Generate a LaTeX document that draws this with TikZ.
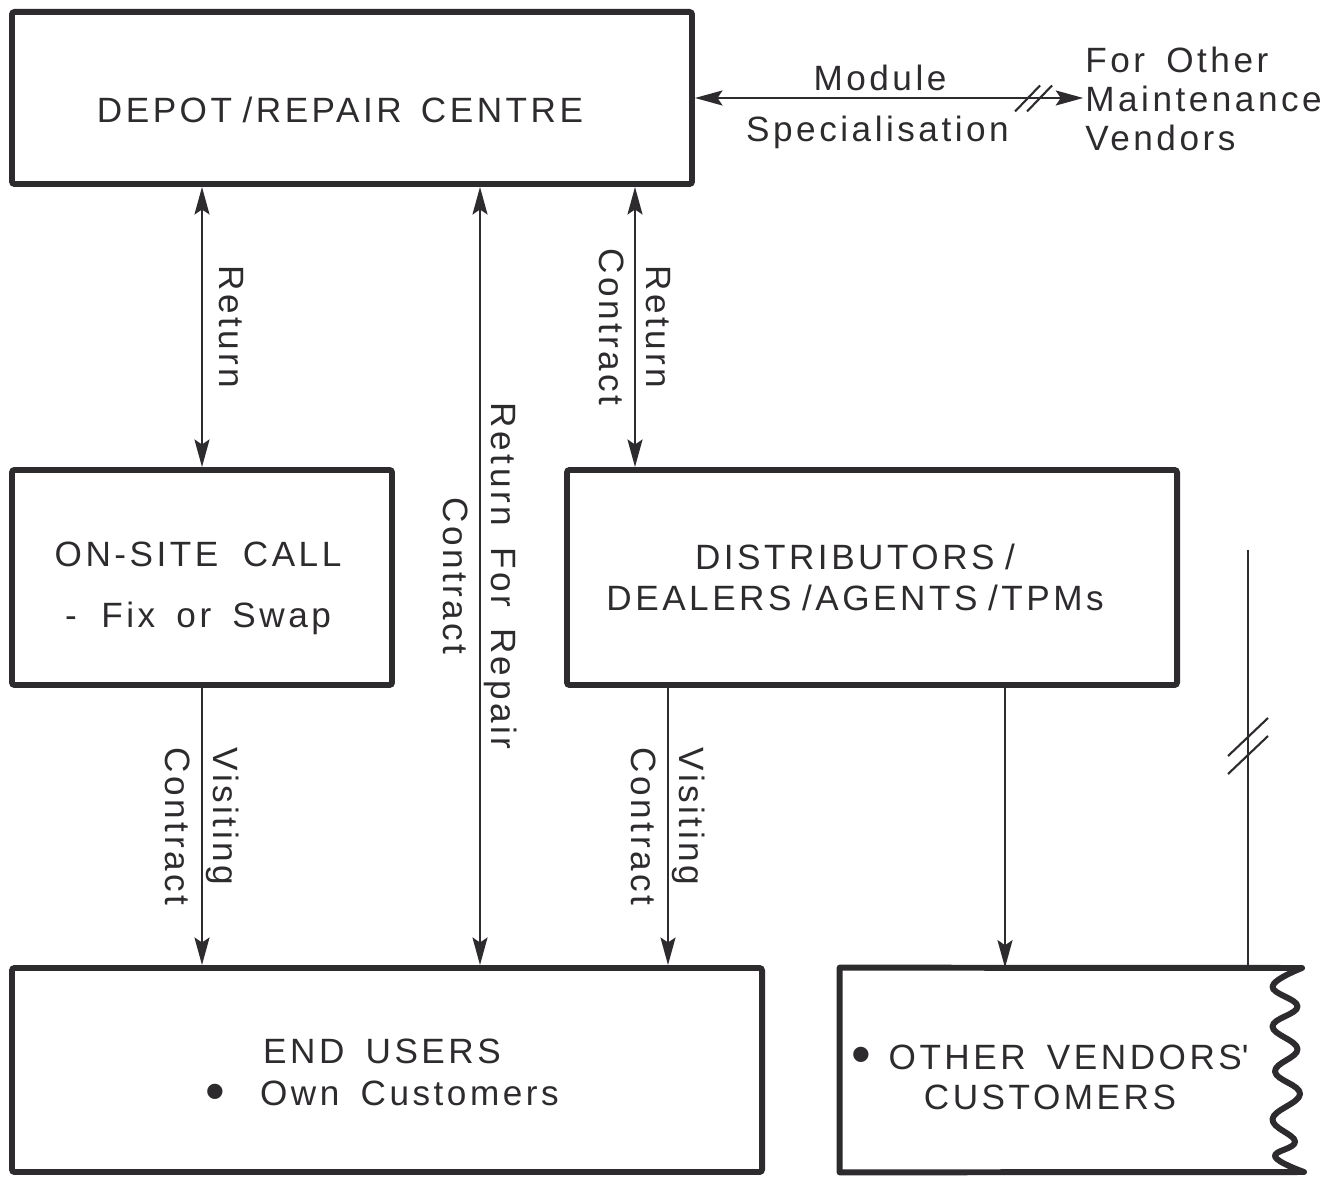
\documentclass[tikz,border=0pt]{standalone}
\usepackage{fontspec}
\setmainfont{Liberation Sans}[LetterSpace=10,WordSpace=1.6]
\usepackage{xcolor}
\usepackage{tikz}
\usetikzlibrary{positioning}
\usetikzlibrary{calc}
\usetikzlibrary{arrows.meta}

\definecolor{ink}{HTML}{2E2B2E}
\newcommand{\bigdot}{\raisebox{-2.5pt}{\fontsize{32}{32}\selectfont\textbullet}}
\newcommand{\slashgap}{\kern0.3em}

\tikzset{
    box/.style={draw, line width=3.4pt, rounded corners=1.5pt},
    flow/.style={line width=1.3pt},
    tag/.style={rotate=-90, align=center},
    brk/.style={line width=1.2pt},
}

\begin{document}
\begin{tikzpicture}[color=ink, font=\fontsize{20}{25}\selectfont, >={Stealth[length=5.5mm,width=3mm,inset=1mm]}]
    \useasboundingbox (0,0) rectangle (26.48,23.58);

    % boxes
    \node[box, minimum width=13.6cm, minimum height=3.44cm] (depot) at (7.04,21.62) {};
    \node[box, minimum width=7.6cm, minimum height=4.3cm] (onsite) at (4.04,12.03) {};
    \node[box, minimum width=12.2cm, minimum height=4.3cm] (dist) at (17.44,12.03) {};
    \node[box, minimum width=15cm, minimum height=4.08cm] (users) at (7.74,2.18) {};
    \node[minimum width=9.2cm, minimum height=4.08cm] (others) at (21.4,2.18) {};
    \draw[line width=3.4pt, line join=round] (others.north west) -- plot[smooth, tension=0.7] coordinates {(26.04,4.22) (25.45,3.85) (25.95,3.45) (25.45,3.05) (25.95,2.6) (25.5,2.15) (26.0,1.7) (25.45,1.2) (25.9,0.75) (25.5,0.45) (26.08,0.14)} -- (others.south west) -- cycle;

    % box texts
    \node (depotlbl) at (6.8,21.38) {DEPOT\slashgap/REPAIR\hspace{0.55em}CENTRE};
    \node[align=center] (onsitelbl) at (3.96,11.81) {ON-SITE\hspace{0.7em}CALL\\[0.35cm] -\hspace{0.7em}Fix or Swap};
    \node[align=center] (distlbl) at (17.1,12.03) {DISTRIBUTORS\slashgap/\\[-2pt]DEALERS\slashgap/AGENTS\slashgap/TPMs};
    \node[align=center] (userslbl) at (7.64,2.09) {END\ USERS\\[-1pt]\bigdot\hspace{1em}Own\ Customers};
    \node[align=center] (otherslbl) at (21.0,2.03) {\bigdot\hspace{0.5em}OTHER VENDORS\textquotesingle\\[-2pt]CUSTOMERS};

    \node[anchor=west, align=left, inner sep=0pt] (vendors) at (21.7,21.6) {For Other\\[-3pt]Maintenance\\[-3pt]Vendors};

    % module link
    \draw[flow, <->, shorten >=1pt] (depot.east) -- (depot.east -| vendors.west)
        node[midway, above, xshift=-0.2cm] {Module}
        node[midway, below, xshift=-0.25cm, yshift=-0.22cm] {Specialisation};
    \coordinate (hbrk) at (20.67,21.62);
    \draw[brk] ([shift={(-0.37,-0.27)}]hbrk) -- ++(0.5,0.52);
    \draw[brk] ([shift={(-0.13,-0.27)}]hbrk) -- ++(0.5,0.52);

    % returns and contracts
    \draw[flow, <->] (depot.south -| onsite.north) -- (onsite.north)
        node[midway, tag, anchor=south, inner ysep=9pt] {Return};
    \draw[flow, <->] (depot.south -| 9.6,0) -- (users.north -| 9.6,0)
        node[midway, tag] {Return For Repair\\[2pt]Contract};
    \draw[flow, <->] (depot.south -| 12.7,0) -- (dist.north -| 12.7,0)
        node[midway, tag] {Return\\[2pt]Contract};
    \draw[flow, ->] (onsite.south) -- (onsite.south |- users.north)
        node[midway, tag, align=left] {Visiting\\[2pt]Contract};
    \draw[flow, ->] (dist.south -| 13.36,0) -- (users.north -| 13.36,0)
        node[midway, tag, align=left] {Visiting\\[2pt]Contract};
    \draw[flow, ->] (dist.south -| 20.1,0) -- (others.north -| 20.1,0);

    % feed from other vendors
    \coordinate (feed) at (24.96,12.58);
    \draw[flow] (feed) -- (feed |- others.north);
    \coordinate (vbrk) at (24.96,8.66);
    \draw[brk] ([shift={(-0.4,-0.2)}]vbrk) -- ++(0.8,0.76);
    \draw[brk] ([shift={(-0.4,-0.56)}]vbrk) -- ++(0.8,0.76);
\end{tikzpicture}
\end{document}
